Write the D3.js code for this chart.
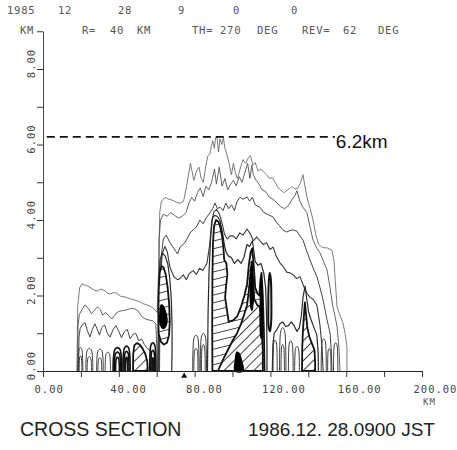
<!DOCTYPE html>
<html>
<head>
<meta charset="utf-8">
<script src="https://cdn.jsdelivr.net/npm/d3@7"></script>
<style>
  body { margin: 0; background: #fff; }
  svg { display: block; }
</style>
</head>
<body>
<svg id="chart" width="457" height="450"></svg>
<script>
// ---- axis values ----
const xTickValues = d3.range(0, 201, 20);          // km along the section
const xLabelValues = [0, 40, 80, 120, 160, 200];
const yTickValues = d3.range(0, 10);               // height, km
const yLabelValues = [0, 2, 4, 6, 8];
const echoTopHeight = 6.2;                         // km, maximum echo top
const radarMarkKm = 74.5;

// ---- header ----
const headerLine1 = ["1985", "12", "28", "9", "0", "0"];
const headerLine2 = ["KM", "R=", "40", "KM", "TH=", "270", "DEG", "REV=", "62", "DEG"];
const titleLeft = "CROSS SECTION";
const titleRight = "1986.12. 28.0900 JST";

// ---- reflectivity contours: [distance km, height km] ----
// level 1 : outermost echo boundary
const level1 = [[17.9,0],[18.3,1.7],[19.3,2.2],[20.6,2.31],[22.5,2.27],[24.8,2.22],[26.5,2.15],[28.5,2.12],[30.5,2.17],[32.2,2.14],[34,2.06],[35.4,2.04],[37.2,2.08],[39,2.06],[41,1.98],[43.3,1.96],[45,1.93],[47,1.9],[49,1.87],[51.2,1.83],[53,1.78],[54.9,1.75],[57,1.7],[58.5,1.65],[60.2,1.55],[61.0,2.6],[61.6,4.2],[62.5,4.5],[64.4,4.6],[66.5,4.55],[68.5,4.52],[70.5,4.47],[72.5,4.44],[74.2,4.5],[75.6,4.85],[76.8,5.2],[77.8,5.5],[78.6,5.3],[79.6,5.05],[81,5.3],[82.3,5.4],[83.5,5.1],[84.6,5.0],[85.8,5.4],[87,5.7],[88.1,5.75],[88.8,5.95],[89.6,6.1],[90.4,5.9],[91.1,6.18],[91.8,6.2],[92.6,5.8],[93.4,6.15],[94.4,6.0],[95.2,6.18],[96,5.9],[97,5.75],[98.2,5.5],[99.4,5.2],[100.5,5.5],[101.5,5.25],[102.6,5.1],[104,5.35],[105.5,5.6],[107,5.5],[108.4,5.65],[109.5,5.7],[110.8,5.45],[112,5.52],[113.5,5.3],[115,5.35],[116.5,5.27],[118,5.2],[119.5,5.1],[121,5.12],[122.5,5.0],[124,4.86],[125.5,4.8],[127,4.72],[128.5,4.78],[130,4.83],[131.5,4.88],[133,4.82],[134.5,4.85],[136,5.0],[137.2,5.2],[138.2,4.9],[139.3,4.61],[141,4.3],[142.5,4.0],[144,3.6],[145.5,3.35],[147.5,3.27],[150,3.26],[152.5,3.2],[153.6,2.9],[154.2,2.4],[155.2,1.7],[156.5,1.5],[158.3,1.27],[159.4,1.0],[160.4,0.64],[160.4,0]];

// level 2
const level2Left = [[18.2,0],[18.5,1.2],[19.2,1.5],[20.5,1.62],[22.2,1.75],[24,1.66],[25.5,1.52],[27,1.6],[28.8,1.7],[30.3,1.62],[31.5,1.48],[33,1.55],[35,1.45],[36.5,1.38],[38,1.5],[40,1.58],[42,1.6],[44,1.62],[46,1.65],[47.8,1.66],[50,1.6],[52,1.45],[54,1.38],[56,1.35],[58,1.33],[59.5,1.25],[60.1,0.6],[60.3,0]];
const level2Main = [[60.8,0],[61.3,3.5],[62,4.0],[63.5,4.15],[65.5,4.1],[67.5,4.2],[69.5,4.12],[71.5,4.05],[73.5,4.1],[75.5,4.2],[77,4.45],[78.5,4.6],[80,4.5],[81.5,4.72],[83,4.85],[84.5,4.62],[86,4.9],[87.5,4.8],[89,5.0],[90.5,5.35],[91.5,4.95],[93,5.4],[94.5,4.9],[96,5.1],[97.5,4.8],[99,4.95],[100.5,5.05],[102,4.9],[103.5,5.15],[105,5.0],[106.5,5.25],[108,5.5],[109.2,5.1],[110.2,5.45],[111,5.2],[112.5,5.05],[114,4.95],[115.5,4.8],[117.5,4.75],[119.5,4.6],[121.5,4.55],[123.5,4.45],[125.5,4.35],[127.5,4.3],[129.5,4.38],[131.5,4.55],[133,4.65],[134,4.78],[135.5,4.5],[137,4.35],[139.3,4.19],[141,3.8],[142.5,3.47],[144.5,3.25],[146.2,3.13],[148,2.9],[149.9,2.68],[151.5,2.2],[153,1.7],[154.3,1.4],[155.2,1.17],[156.2,0.6],[156.7,0]];

// level 3
const level3Left = [[18.7,0],[19,0.9],[19.6,1.12],[20.6,1.22],[22.2,1.28],[23.5,1.05],[24.8,0.9],[26,1.1],[27.4,1.25],[28.5,1.12],[29.8,0.95],[31,1.15],[32.5,1.22],[34,1.0],[35.4,0.9],[37,1.1],[38.5,1.2],[40,1.05],[41.4,0.88],[43,1.05],[44.5,1.1],[46,0.85],[47.5,0.97],[49,1.0],[50.5,0.8],[52,0.85],[53.5,0.7],[55,0.6],[56.5,0.55],[57.5,0.3],[57.8,0]];
const level3Main = [[61.5,0],[61.8,2.2],[62.3,3.0],[63.5,3.5],[65,3.6],[67,3.4],[69,3.25],[71,3.1],[72.3,3.28],[74,3.35],[75.5,3.45],[77.6,3.66],[79.5,3.75],[81,3.82],[82.8,4.0],[84.5,3.9],[86,4.05],[88.1,4.19],[89.5,4.3],[90.8,4.45],[92,4.3],[93.4,4.34],[95,4.25],[96.5,4.45],[98,4.3],[99.5,4.4],[101,4.25],[102.5,4.5],[104,4.6],[105.5,4.55],[107.7,4.61],[109,4.5],[110.5,4.6],[112,4.4],[114.5,4.34],[116.5,4.2],[118.5,4.15],[121.4,4.08],[123,3.95],[124.8,3.85],[126.6,3.74],[128.5,3.68],[130.3,3.72],[131.9,3.74],[134,3.7],[136,3.55],[137.2,3.47],[139,3.2],[140.9,2.94],[142.8,2.7],[144.6,2.49],[146.2,2.2],[147.8,1.88],[149.7,1.4],[151.5,1.0],[152.2,0.5],[152.5,0]];

// level 4
const level4Main = [[61.2,0],[61.5,1.6],[62,2.45],[62.9,3.1],[64.3,3.3],[65.6,3.15],[67,2.75],[69,2.5],[71,2.42],[72.3,2.45],[74,2.55],[75.6,2.42],[77.2,2.58],[79.2,2.66],[81,2.56],[82.6,2.72],[84.3,2.66],[86.5,2.85],[88,3.35],[89,3.95],[90.2,4.22],[91.6,4.28],[93.2,4.15],[94.6,3.9],[95.8,3.62],[97.2,3.5],[98.8,3.58],[100.3,3.58],[102,3.5],[103.8,3.66],[105.5,3.6],[107.7,3.76],[109.5,3.62],[111,3.45],[112.8,3.55],[114.5,3.45],[116.3,3.35],[118,3.4],[119.8,3.22],[121.4,3.28],[123,3.05],[125.1,2.86],[127,2.75],[128.6,2.62],[130.3,2.6],[132,2.55],[133.8,2.45],[135.6,2.5],[137.5,2.25],[139.3,2.05],[141,1.95],[142.5,1.9],[144.5,1.75],[146.2,1.2],[147.3,0.6],[147.8,0]];

// level 5
const level5Core = [[60.6,0],[60.8,1.2],[61.1,2.3],[61.8,2.95],[63,3.12],[64.4,3.05],[65.8,2.85],[66.9,2.45],[67.7,1.9],[68.1,1.2],[68.1,0.5],[67.9,0]];
const level5Main = [[86.8,0],[87.1,1.5],[87.6,2.6],[88.4,3.5],[89.4,4.05],[90.6,4.12],[92,4.1],[93.4,3.98],[94.6,3.7],[95.7,3.35],[96.6,3.15],[97.8,3.05],[99.5,3.0],[101,2.85],[102.8,2.95],[104.5,2.85],[106,3.0],[107.6,3.35],[109,3.3],[110.5,3.45],[112,2.9],[113.5,2.8],[115,2.85],[116.5,2.6],[117.5,2.2],[118,1.4],[118.2,0.6],[118.2,0]];
const level5Right = [[121,0],[121.3,0.7],[122,1.0],[123.5,1.1],[125,1.25],[126.5,1.3],[128,1.18],[129.5,1.2],[131,1.3],[132.5,1.2],[134,1.05],[135.3,1.15],[136.3,1.45],[137.2,1.95],[138.3,2.25],[139.2,1.9],[140.2,1.55],[141.5,1.35],[143,1.15],[144.5,0.95],[145.2,0.5],[145.3,0]];

// low-level cells standing on the ground: [from km, to km, top km]
const groundCells = [
  [18.6,21.0,0.62],[19.1,20.5,0.4],[22.6,26.3,0.6],[23.3,25.6,0.38],
  [28.3,31.8,0.58],[29.0,31.0,0.35],[32.8,35.6,0.5],
  [79.0,82.4,0.95],[79.6,81.8,0.6],[83.0,86.3,1.0],[83.6,85.6,0.7],
  [121.4,123.6,0.82],[124.8,128.2,1.15],[125.6,127.4,0.7],[129.5,132.0,0.8],[132.8,135.3,0.65],
  [146.8,149.5,0.85],[150.2,152.0,0.6],[153.3,155.6,0.75]
];
// dense strong cells near the ground
const strongGroundCells = [
  [37.0,41.6,0.62],[37.6,41.0,0.5],[38.3,40.3,0.36],
  [42.2,46.0,0.66],[42.8,45.4,0.52],[43.5,44.7,0.36],
  [56.3,59.6,0.75],[56.9,59.0,0.55],[57.5,58.4,0.35]
];

// level 6 (ladder shading)
const level6Core = [[61.0,1.0],[60.9,1.6],[61.1,2.2],[61.6,2.6],[62.5,2.78],[63.6,2.75],[64.8,2.55],[65.8,2.2],[66.6,1.75],[66.9,1.3],[66.5,0.95],[65.4,0.75],[63.8,0.7],[62.2,0.78]];
const level6Main = [[89.4,0],[89.3,1.2],[89.4,2.5],[89.7,3.4],[90.3,3.85],[91.3,4.0],[92.6,3.95],[93.6,3.8],[94.6,3.55],[95.3,3.2],[95.6,2.95],[96.8,2.85],[97.3,2.55],[96.6,2.25],[96.1,1.95],[98,1.3],[100.5,1.35],[102.5,1.45],[104.5,1.7],[106.3,2.0],[107.7,2.3],[108.6,2.8],[109.6,3.15],[110.4,3.25],[111.2,2.8],[112,2.2],[113.2,2.05],[114.2,2.0],[114.7,2.4],[115.3,2.6],[116,2.0],[116.6,1.0],[116.9,0]];

// level 7 (diagonal shading)
const level7Left = [[47.5,0],[47.6,0.45],[48.2,0.68],[49.5,0.74],[51,0.7],[52.5,0.6],[54,0.45],[55,0.25],[55.3,0]];
const level7Main = [[92.3,0],[95,0.3],[97.5,0.55],[100,0.8],[102.4,1.0],[104.5,1.25],[106.5,1.55],[107.7,1.75],[108.8,2.2],[109.6,2.7],[110.3,2.9],[110.9,2.4],[111.5,1.9],[113,1.75],[114.5,1.7],[115.5,1.1],[116,0.5],[116,0]];
const level7Right = [[136.7,0],[136.8,0.6],[137.1,1.0],[137.6,1.4],[138.2,1.82],[138.8,1.5],[139.5,1.15],[140.6,0.9],[142,0.72],[143.3,0.55],[143.6,0.2],[143.6,0]];

// level 8 (solid)
const level8Core = [[61.8,1.25],[61.7,1.55],[62.3,1.75],[63.5,1.72],[64.8,1.55],[65.5,1.35],[64.8,1.18],[63.3,1.12]];
const level8Ground = [[101.3,0],[101.5,0.3],[102.3,0.5],[103.3,0.48],[104.6,0.32],[105.5,0]];
const level8SpireA = [[109.4,1.8],[109.7,2.4],[110.2,2.85],[110.7,2.3],[110.9,1.8],[110.2,1.6]];
const level8SpireB = [[114.7,1.0],[114.6,1.8],[115.0,2.35],[115.4,2.45],[115.7,1.9],[115.7,1.1],[115.2,0.85]];
const narrowCell = [[119.1,1.15],[118.9,1.7],[119.1,2.3],[119.6,2.6],[120.2,2.45],[120.5,1.9],[120.4,1.3],[119.8,1.05]];

// ---------------------------------------------------------------
const svg = d3.select("#chart");
const x = d3.scaleLinear().domain([0, 200]).range([43, 422]);
const y = d3.scaleLinear().domain([0, 9]).range([371, 31.25]);

const defs = svg.append("defs");
defs.append("pattern")
  .attr("id", "diag").attr("patternUnits", "userSpaceOnUse")
  .attr("width", 7).attr("height", 7).attr("patternTransform", "rotate(45)")
  .append("line").attr("x1", 0).attr("y1", 0).attr("x2", 0).attr("y2", 7)
  .attr("stroke", "#111").attr("stroke-width", 1.6);
defs.append("pattern")
  .attr("id", "ladder").attr("patternUnits", "userSpaceOnUse")
  .attr("width", 7).attr("height", 7.5).attr("patternTransform", "rotate(-14)")
  .append("line").attr("x1", 0).attr("y1", 0).attr("x2", 7).attr("y2", 0)
  .attr("stroke", "#111").attr("stroke-width", 1.5);

const line = d3.line().x(d => x(d[0])).y(d => y(d[1]));
const closed = d3.line().x(d => x(d[0])).y(d => y(d[1])).curve(d3.curveLinearClosed);
const smooth = d3.line().x(d => x(d[0])).y(d => y(d[1])).curve(d3.curveCatmullRom);
const smoothClosed = d3.line().x(d => x(d[0])).y(d => y(d[1])).curve(d3.curveCatmullRomClosed);

function archPoints([x0, x1, top]) {
  const w = x1 - x0;
  return [[x0, 0], [x0 + 0.05 * w, top * 0.6], [x0 + 0.22 * w, top * 0.93], [(x0 + x1) / 2, top],
          [x1 - 0.22 * w, top * 0.93], [x1 - 0.05 * w, top * 0.6], [x1, 0]];
}

const g = svg.append("g").attr("fill", "none").attr("stroke-linejoin", "round");

// outline contours, outer to inner
const outlineStyles = [
  { data: [level1], color: "#5a5a5a", width: 0.8 },
  { data: [level2Left, level2Main], color: "#505050", width: 0.9 },
  { data: [level3Left, level3Main], color: "#444", width: 1.0 },
  { data: [level4Main], color: "#3a3a3a", width: 1.1 },
  { data: [level5Core, level5Main, level5Right], color: "#2a2a2a", width: 1.2 }
];
outlineStyles.forEach(s => {
  g.selectAll(null).data(s.data).join("path")
    .attr("d", line).attr("stroke", s.color).attr("stroke-width", s.width);
});

g.selectAll(null).data(groundCells).join("path")
  .attr("d", d => smooth(archPoints(d))).attr("stroke", "#3a3a3a").attr("stroke-width", 1);
g.selectAll(null).data(strongGroundCells).join("path")
  .attr("d", d => smooth(archPoints(d))).attr("stroke", "#111").attr("stroke-width", 1.6);

// shaded levels
function shaded(data, pattern) {
  g.append("path").attr("d", closed(data)).attr("fill", "#fff").attr("stroke", "none");
  g.append("path").attr("d", closed(data)).attr("fill", `url(#${pattern})`)
    .attr("stroke", "#111").attr("stroke-width", 1.8);
}
shaded(level6Core, "ladder");
shaded(level6Main, "ladder");
shaded(level7Left, "diag");
shaded(level7Main, "diag");
shaded(level7Right, "diag");

[level8Core, level8Ground, level8SpireA, level8SpireB].forEach(d => {
  g.append("path").attr("d", smoothClosed(d)).attr("fill", "#000").attr("stroke", "#000").attr("stroke-width", 1.2);
});
g.append("path").attr("d", smoothClosed(narrowCell)).attr("fill", "#fff")
  .attr("stroke", "#111").attr("stroke-width", 2);

// ---- axes ----
const tickFont = "'DejaVu Sans Mono', monospace";
const xAxis = svg.append("g").attr("transform", `translate(0,${y(0)})`)
  .call(d3.axisBottom(x).tickValues(xTickValues).tickSize(6).tickSizeOuter(0)
    .tickFormat(d => xLabelValues.includes(d) ? d.toFixed(2) : ""));
xAxis.select(".domain").attr("stroke", "#222").attr("stroke-width", 1.2);
xAxis.selectAll(".tick line").attr("stroke", "#333");
xAxis.selectAll(".tick text")
  .attr("font-family", tickFont).attr("font-size", 10.5).attr("letter-spacing", 1)
  .attr("fill", "#444").attr("text-anchor", "start").attr("x", -9).attr("y", 22).attr("dy", 0);

const yAxis = svg.append("g").attr("transform", `translate(${x(0)},0)`)
  .call(d3.axisLeft(y).tickValues(yTickValues).tickSize(6).tickSizeOuter(0)
    .tickFormat(d => yLabelValues.includes(d) ? d.toFixed(2) : ""));
yAxis.select(".domain").attr("stroke", "#444").attr("stroke-width", 1);
yAxis.selectAll(".tick line").attr("stroke", "#333");
yAxis.selectAll(".tick text")
  .attr("font-family", tickFont).attr("font-size", 10.5).attr("letter-spacing", 1)
  .attr("fill", "#444").attr("text-anchor", "middle")
  .attr("x", 0).attr("y", 0).attr("dy", "0.35em")
  .attr("transform", "translate(-12,-6) rotate(-90)");

svg.append("text").attr("x", x(200) + 1).attr("y", y(0) + 34)
  .attr("font-family", tickFont).attr("font-size", 9).attr("letter-spacing", 1)
  .attr("fill", "#555").text("KM");

// radar position mark
svg.append("path")
  .attr("d", d3.symbol(d3.symbolTriangle, 16)())
  .attr("transform", `translate(${x(radarMarkKm)},${y(0) + 5})`)
  .attr("fill", "#111");

// echo top line
svg.append("line")
  .attr("x1", x(2)).attr("x2", x(154)).attr("y1", y(echoTopHeight)).attr("y2", y(echoTopHeight))
  .attr("stroke", "#111").attr("stroke-width", 1.8).attr("stroke-dasharray", "8,5");
svg.append("text").attr("x", x(154) + 1).attr("y", y(echoTopHeight) + 11)
  .attr("font-family", "'Liberation Sans', Arial, sans-serif").attr("font-size", 19)
  .attr("fill", "#111").text(`${echoTopHeight}km`);

// ---- header ----
const headerFont = "'DejaVu Sans Mono', monospace";
const line1X = [7, 58, 118, 178, 233, 291];
const line2X = [20, 82, 110, 137, 192, 220, 257, 302, 343, 378];
svg.append("g").selectAll("text").data(headerLine1).join("text")
  .attr("x", (d, i) => line1X[i]).attr("y", 14)
  .attr("font-family", headerFont).attr("font-size", 10.5).attr("letter-spacing", 0.8)
  .attr("fill", "#555").text(d => d);
svg.append("g").selectAll("text").data(headerLine2).join("text")
  .attr("x", (d, i) => line2X[i]).attr("y", 34)
  .attr("font-family", headerFont).attr("font-size", 10.5).attr("letter-spacing", 0.8)
  .attr("fill", "#555").text(d => d);

// ---- title ----
svg.append("text").attr("x", 20).attr("y", 436)
  .attr("font-family", "'Liberation Sans', Arial, sans-serif").attr("font-size", 19.5)
  .attr("fill", "#222").text(titleLeft);
svg.append("text").attr("x", 248).attr("y", 436)
  .attr("font-family", "'Liberation Sans', Arial, sans-serif").attr("font-size", 19)
  .attr("fill", "#222").text(titleRight);
</script>
</body>
</html>
